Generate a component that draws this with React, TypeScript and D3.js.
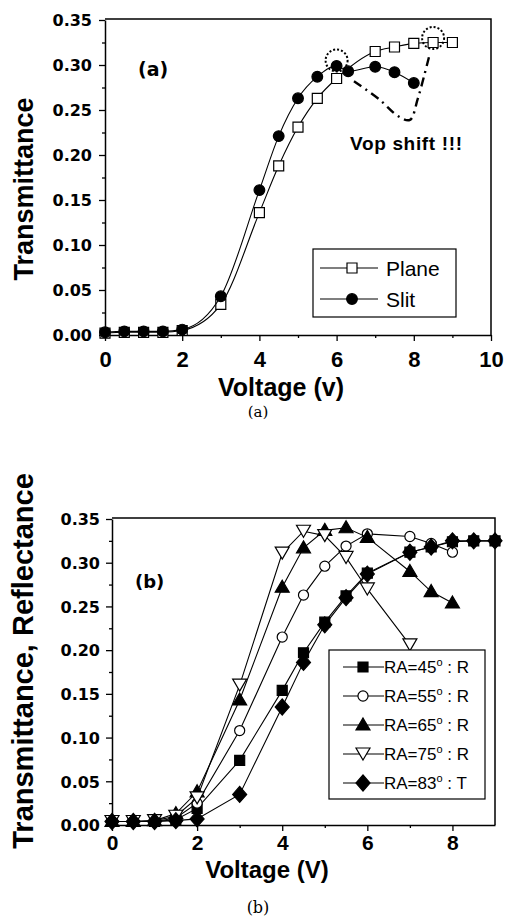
import React, { useEffect, useRef } from 'react';
import * as d3 from 'd3';

// panel (a)
const voltsPlane = [0, 0.5, 1, 1.5, 2, 3, 4, 4.5, 5, 5.5, 6, 7, 7.5, 8, 8.5, 9];
const plane = [0.002, 0.003, 0.003, 0.003, 0.005, 0.034, 0.136, 0.188, 0.231, 0.263, 0.285, 0.315, 0.32, 0.324, 0.325, 0.325];
const voltsSlit = [0, 0.5, 1, 1.5, 2, 3, 4, 4.5, 5, 5.5, 6, 6.3, 7, 7.5, 8];
const slit = [0.003, 0.004, 0.004, 0.004, 0.006, 0.043, 0.161, 0.221, 0.263, 0.287, 0.299, 0.293, 0.298, 0.292, 0.28];
const shiftVolts = [6.45, 7.1, 7.6, 7.9, 8.1, 8.28, 8.4];
const shiftVals = [0.282, 0.262, 0.243, 0.239, 0.262, 0.29, 0.31];
const circledV = [6, 8.5];
const circledT = [0.305, 0.330];
const ticksA = [0, 2, 4, 6, 8, 10];

// panel (b)
const volts45 = [0, 0.5, 1, 1.5, 2, 3, 4, 4.5, 5, 5.5, 6, 7, 7.5, 8, 8.5, 9];
const ra45 = [0.004, 0.004, 0.004, 0.006, 0.019, 0.074, 0.154, 0.197, 0.232, 0.262, 0.288, 0.312, 0.318, 0.324, 0.325, 0.325];
const volts55 = [0, 0.5, 1, 1.5, 2, 3, 4, 4.5, 5, 5.5, 6, 7, 7.5, 8];
const ra55 = [0.004, 0.004, 0.004, 0.008, 0.025, 0.108, 0.215, 0.263, 0.296, 0.319, 0.333, 0.33, 0.322, 0.312];
const volts65 = [0, 0.5, 1, 1.5, 2, 3, 4, 4.5, 5, 5.5, 6, 7, 7.5, 8];
const ra65 = [0.004, 0.004, 0.005, 0.013, 0.038, 0.143, 0.272, 0.317, 0.337, 0.34, 0.329, 0.29, 0.267, 0.254];
const volts75 = [0, 0.5, 1, 1.5, 2, 3, 4, 4.5, 5, 5.5, 6, 7];
const ra75 = [0.004, 0.004, 0.005, 0.01, 0.031, 0.16, 0.311, 0.336, 0.331, 0.306, 0.27, 0.206];
const volts83 = [0, 0.5, 1, 1.5, 2, 3, 4, 4.5, 5, 5.5, 6, 7, 7.5, 8, 8.5, 9];
const ra83 = [0.004, 0.004, 0.004, 0.005, 0.007, 0.035, 0.135, 0.186, 0.229, 0.26, 0.287, 0.312, 0.318, 0.325, 0.325, 0.325];
const angles = ['45', '55', '65', '75', '83'];
const modes = ['R', 'R', 'R', 'R', 'T'];
const ticksB = [0, 2, 4, 6, 8];

const yTicks = [0, 0.05, 0.1, 0.15, 0.2, 0.25, 0.3, 0.35];

const marker = (kind: string) => {
  switch (kind) {
    case 'square': return 'M-5,-5H5V5H-5Z';
    case 'circle': return d3.symbol().type(d3.symbolCircle).size(90)();
    case 'smallcircle': return d3.symbol().type(d3.symbolCircle).size(80)();
    case 'up': return 'M0,-7L7,5H-7Z';
    case 'down': return 'M0,6L7,-6H-7Z';
    case 'diamond': return 'M0,-8L7,0L0,8L-7,0Z';
    default: return '';
  }
};

const App = () => {
  const svgRef = useRef(null);

  useEffect(() => {
    const svg = d3.select(svgRef.current);
    svg.selectAll('*').remove();

    const tickFont = 'DejaVu Sans';
    const sans = 'Liberation Sans, Arial, sans-serif';

    const drawAxes = (x, y, xTicks, yPad, xPad, xFont) => {
      const [x0] = x.range();
      const [y0] = y.range();
      const xMinor = d3.range(1, x.domain()[1], 2);
      svg.append('g')
        .attr('transform', `translate(0,${y0})`)
        .call(d3.axisBottom(x).tickValues(xMinor).tickSize(3).tickFormat(() => ''))
        .call(g => g.select('.domain').remove());
      svg.append('g')
        .attr('transform', `translate(${x0},0)`)
        .call(d3.axisLeft(y).tickValues(d3.range(0.025, 0.35, 0.05)).tickSize(3).tickFormat(() => ''))
        .call(g => g.select('.domain').remove());

      const gx = svg.append('g')
        .attr('transform', `translate(0,${y0})`)
        .call(d3.axisBottom(x).tickValues(xTicks).tickSize(6).tickPadding(xPad).tickSizeOuter(0));
      gx.selectAll('text')
        .attr('font-family', sans).attr('font-weight', 'bold').attr('font-size', xFont).attr('fill', '#000');

      const gy = svg.append('g')
        .attr('transform', `translate(${x0},0)`)
        .call(d3.axisLeft(y).tickValues(yTicks).tickSize(6).tickPadding(yPad).tickSizeOuter(0).tickFormat(d3.format('.2f')));
      gy.selectAll('text')
        .attr('font-family', tickFont).attr('font-weight', 'bold').attr('font-size', 16).attr('fill', '#000')
        .attr('dy', '0.36em');

      svg.selectAll('.domain').attr('stroke-width', 1.5);
      svg.selectAll('.tick line').attr('stroke-width', 1.3);

      // top and right frame
      svg.append('path')
        .attr('d', `M${x0},${y.range()[1] - 1}H${x.range()[1]}V${y0}`)
        .attr('fill', 'none').attr('stroke', '#000').attr('stroke-width', 1.5);
    };

    const drawSeries = (x, y, vs, ts, kind, filled, curve) => {
      const pts = vs.map((v, i) => [v, ts[i]]);
      svg.append('path')
        .datum(pts)
        .attr('fill', 'none').attr('stroke', '#000').attr('stroke-width', 1.1)
        .attr('d', d3.line().x(d => x(d[0])).y(d => y(d[1])).curve(curve));
      svg.append('g').selectAll('path')
        .data(pts)
        .join('path')
        .attr('d', marker(kind))
        .attr('transform', d => `translate(${x(d[0])},${y(d[1])})`)
        .attr('fill', filled ? '#000' : '#fff')
        .attr('stroke', '#000').attr('stroke-width', 1.2);
    };

    // ---------- (a)
    const xA = d3.scaleLinear().domain([0, 10]).range([105, 491]);
    const yA = d3.scaleLinear().domain([0, 0.35]).range([335, 20]);
    drawAxes(xA, yA, ticksA, 7, 10, 22);

    drawSeries(xA, yA, voltsPlane, plane, 'square', false, d3.curveMonotoneX);
    drawSeries(xA, yA, voltsSlit, slit, 'circle', true, d3.curveMonotoneX);

    svg.append('path')
      .datum(shiftVolts.map((v, i) => [v, shiftVals[i]]))
      .attr('fill', 'none').attr('stroke', '#000').attr('stroke-width', 2.4)
      .attr('stroke-dasharray', '9,5,2,5')
      .attr('d', d3.line().x(d => xA(d[0])).y(d => yA(d[1])).curve(d3.curveCatmullRom));

    svg.append('g').selectAll('circle')
      .data(circledV)
      .join('circle')
      .attr('cx', d => xA(d))
      .attr('cy', (d, i) => yA(circledT[i]))
      .attr('r', 11)
      .attr('fill', 'none').attr('stroke', '#000').attr('stroke-width', 2)
      .attr('stroke-dasharray', '2,2');

    svg.append('text').attr('x', 138).attr('y', 76)
      .attr('font-family', tickFont).attr('font-weight', 'bold').attr('font-size', 19)
      .text('(a)');
    svg.append('text').attr('x', 350).attr('y', 150)
      .attr('font-family', sans).attr('font-weight', 'bold').attr('font-size', 19)
      .attr('textLength', 112)
      .text('Vop shift !!!');

    // legend (a)
    svg.append('rect').attr('x', 313).attr('y', 249).attr('width', 143).attr('height', 68)
      .attr('fill', '#fff').attr('stroke', '#000').attr('stroke-width', 1.2);
    const legA = [{ name: 'Plane', kind: 'square', filled: false }, { name: 'Slit', kind: 'circle', filled: true }];
    legA.forEach((d, i) => {
      const cy = 268 + i * 31;
      svg.append('line').attr('x1', 320).attr('x2', 378).attr('y1', cy).attr('y2', cy)
        .attr('stroke', '#000').attr('stroke-width', 1.2);
      svg.append('path').attr('d', marker(d.kind)).attr('transform', `translate(352,${cy})`)
        .attr('fill', d.filled ? '#000' : '#fff').attr('stroke', '#000').attr('stroke-width', 1.2);
      svg.append('text').attr('x', 386).attr('y', cy + 8)
        .attr('font-family', sans).attr('font-size', 21)
        .text(d.name);
    });

    svg.append('text').attr('x', 33).attr('y', 189)
      .attr('transform', 'rotate(-90,33,189)')
      .attr('text-anchor', 'middle')
      .attr('font-family', sans).attr('font-weight', 'bold').attr('font-size', 27)
      .text('Transmittance');
    svg.append('text').attr('x', 281).attr('y', 396)
      .attr('text-anchor', 'middle')
      .attr('font-family', sans).attr('font-weight', 'bold').attr('font-size', 25)
      .text('Voltage (v)');
    svg.append('text').attr('x', 258).attr('y', 417)
      .attr('text-anchor', 'middle')
      .attr('font-family', 'DejaVu Serif').attr('font-size', 15)
      .text('(a)');

    // ---------- (b)
    const xB = d3.scaleLinear().domain([0, 9]).range([112, 495]);
    const yB = d3.scaleLinear().domain([0, 0.35]).range([825, 519]);
    drawAxes(xB, yB, ticksB, 6, 4, 21);

    drawSeries(xB, yB, volts45, ra45, 'square', true, d3.curveLinear);
    drawSeries(xB, yB, volts55, ra55, 'smallcircle', false, d3.curveLinear);
    drawSeries(xB, yB, volts65, ra65, 'up', true, d3.curveLinear);
    drawSeries(xB, yB, volts75, ra75, 'down', false, d3.curveLinear);
    drawSeries(xB, yB, volts83, ra83, 'diamond', true, d3.curveLinear);

    svg.append('text').attr('x', 135).attr('y', 588)
      .attr('font-family', tickFont).attr('font-weight', 'bold').attr('font-size', 18)
      .text('(b)');

    // legend (b)
    svg.append('rect').attr('x', 329).attr('y', 650).attr('width', 156).attr('height', 149)
      .attr('fill', '#fff').attr('stroke', '#000').attr('stroke-width', 1.2);
    const kindsB = ['square', 'smallcircle', 'up', 'down', 'diamond'];
    const filledB = [true, false, true, false, true];
    angles.forEach((a, i) => {
      const cy = 667 + i * 29;
      svg.append('line').attr('x1', 343).attr('x2', 384).attr('y1', cy).attr('y2', cy)
        .attr('stroke', '#000').attr('stroke-width', 1.2);
      svg.append('path').attr('d', marker(kindsB[i])).attr('transform', `translate(363,${cy})`)
        .attr('fill', filledB[i] ? '#000' : '#fff').attr('stroke', '#000').attr('stroke-width', 1.2);
      const t = svg.append('text').attr('x', 384).attr('y', cy + 6)
        .attr('font-family', sans).attr('font-size', 17);
      t.append('tspan').text(`RA=${a}`);
      t.append('tspan').attr('font-size', 11).attr('dy', -7).text('o');
      t.append('tspan').attr('dy', 7).text(` : ${modes[i]}`);
    });

    svg.append('text').attr('x', 33).attr('y', 661)
      .attr('transform', 'rotate(-90,33,661)')
      .attr('text-anchor', 'middle')
      .attr('font-family', sans).attr('font-weight', 'bold').attr('font-size', 29)
      .text('Transmittance, Reflectance');
    svg.append('text').attr('x', 267).attr('y', 878)
      .attr('text-anchor', 'middle')
      .attr('font-family', sans).attr('font-weight', 'bold').attr('font-size', 24)
      .text('Voltage (V)');
    svg.append('text').attr('x', 258).attr('y', 913)
      .attr('text-anchor', 'middle')
      .attr('font-family', 'DejaVu Serif').attr('font-size', 16)
      .text('(b)');
  }, []);

  return (
    <svg ref={svgRef} width={516} height={920}
      style={{ position: 'absolute', left: 0, top: 0, background: '#fff' }} />
  );
};

export default App;
